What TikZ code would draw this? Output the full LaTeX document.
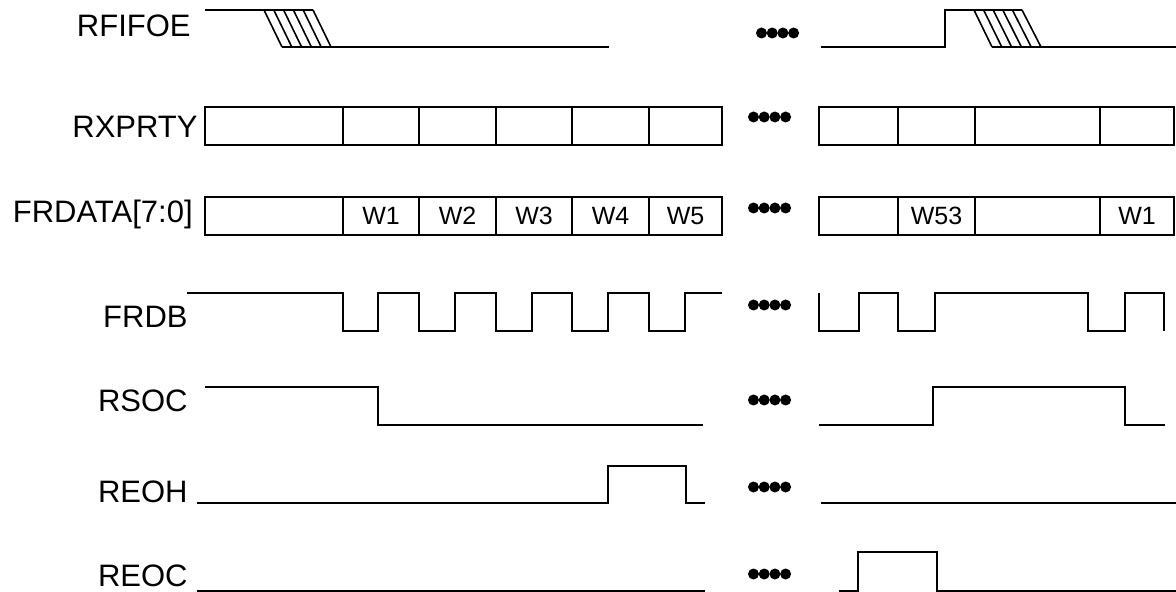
\documentclass[tikz,border=0pt]{standalone}
\usepackage{fontspec}
\setmainfont{Liberation Sans}
\usepackage{tikz}

\begin{document}
\begin{tikzpicture}[
    x=0.5pt, y=-0.5pt,
    signame/.style={anchor=base east, inner sep=0pt, font=\fontsize{15.5}{18}\selectfont},
    word/.style={inner sep=0pt, font=\fontsize{12.5}{15}\selectfont},
    sigline/.style={draw=black, line width=1pt},
    cell/.style={draw=black, line width=1pt},
    hatch/.style={draw=black, line width=0.8pt}
]
\useasboundingbox (0,0) rectangle (1176,592);
\node (rfifoe) [signame] at (191,37) {RFIFOE};
\node (rxprty) [signame] at (198,138) {RXPRTY};
\node (frdata) [signame] at (193,223) {FRDATA[7:0]};
\node (frdb) [signame] at (188,328) {FRDB};
\node (rsoc) [signame] at (188,412) {RSOC};
\node (reoh) [signame] at (188,502) {REOH};
\node (reoc) [signame] at (188,586) {REOC};
\draw [sigline] (205,10) -- (313,10);
\draw [sigline] (282,47) -- (609,47);
\foreach \i in {0,...,5} \draw [hatch] ({264+9.8*\i},10) -- ({282+9.8*\i},47);
\draw [sigline] (821,47) -- (945,47) -- (945,10) -- (1022,10);
\draw [sigline] (992,47) -- (1176,47);
\foreach \i in {0,...,5} \draw [hatch] ({974+9.6*\i},10) -- ({992+9.8*\i},47);
\foreach \ya/\yb in {107/145, 197/235} {
  \draw [cell] (205,\ya) rectangle (722,\yb);
  \draw [cell] (819,\ya) rectangle (1174,\yb);
  \foreach \x in {343,419,496,572,649,898,975,1100} \draw [cell] (\x,\ya) -- (\x,\yb);
}
\node (w1) [word] at (381,216) {W1};
\node (w2) [word] at (457.5,216) {W2};
\node (w3) [word] at (534,216) {W3};
\node (w4) [word] at (610.5,216) {W4};
\node (w5) [word] at (685.5,216) {W5};
\node (w53) [word] at (936.5,216) {W53};
\node (w1b) [word] at (1137,216) {W1};
\draw [sigline] (187,293) -| (343,331) -| (378,293) -| (419,331) -| (455,293) -| (496,331) -| (532,293) -| (572,331) -| (608,293) -| (649,331) -| (685,293) -- (722,293);
\draw [sigline] (819,293) -- (819,331) -| (859,293) -| (898,331) -| (935,293) -| (1088,331) -| (1125,293) -| (1164,331);
\draw [sigline] (205,387) -| (378,425) -- (703,425);
\draw [sigline] (819,425) -| (933,387) -| (1125,425) -- (1165,425);
\draw [sigline] (197,503) -| (608,466) -| (686,503) -- (705,503);
\draw [sigline] (821,503) -- (1176,503);
\draw [sigline] (197,591) -- (705,591);
\draw [sigline] (839,591) -| (858,552) -| (937,591) -- (1176,591);
\foreach \y/\s in {33/8, 117/0, 208/0, 305/0, 400/0, 487/0, 574/0}
  \foreach \x in {753.5,764.2,774.9,785.6} \fill ({\x+\s},\y) circle [radius=5.5];
\end{tikzpicture}
\end{document}
